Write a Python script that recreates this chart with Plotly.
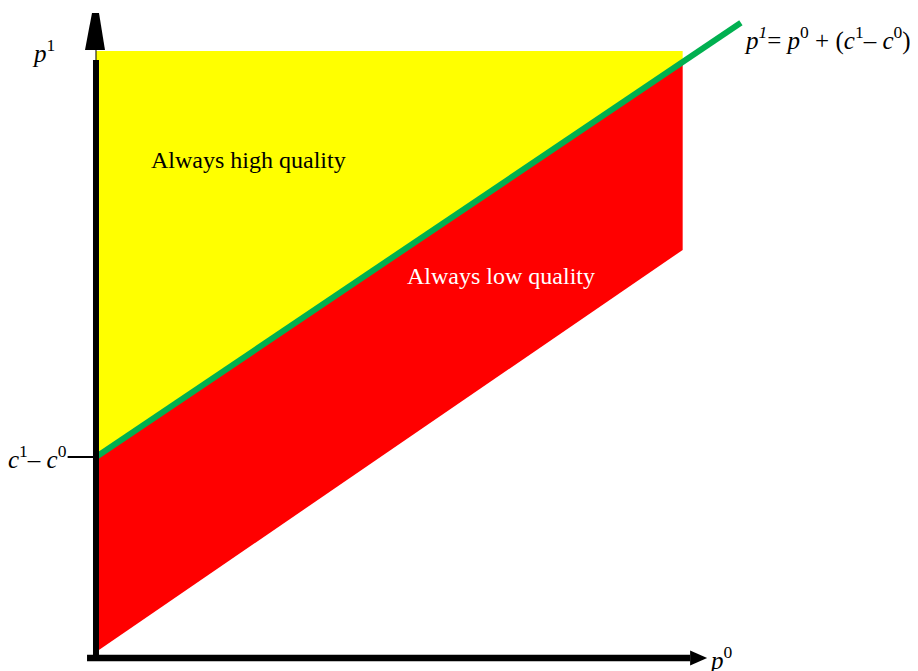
import plotly.graph_objects as go

# region corners, in (p0, p1) units with c1 - c0 = 1
high_p0 = [0, 0, 1.965, 1.965]
high_p1 = [1.0, 3.02, 3.02, 2.965]

low_p0 = [0, 1.965, 1.965, 0]
low_p1 = [1.0, 2.965, 2.03, 0.03]

# boundary p1 = p0 + (c1 - c0)
cost_gap = 1.0
line_p0 = [0, 2.16]
line_p1 = [p + cost_gap for p in line_p0]

# axis extents
y_axis_top = 2.975
y_arrow_at = 3.025
x_axis_end = 1.99

SERIF = "Liberation Serif, Times New Roman, serif"

fig = go.Figure()

fig.add_trace(go.Scatter(
    x=high_p0, y=high_p1, fill="toself", fillcolor="#FFFF00",
    mode="none", hoverinfo="skip"))
fig.add_trace(go.Scatter(
    x=low_p0, y=low_p1, fill="toself", fillcolor="#FF0000",
    mode="none", hoverinfo="skip"))
fig.add_trace(go.Scatter(
    x=line_p0, y=line_p1, mode="lines",
    line=dict(color="#00B050", width=6), hoverinfo="skip"))

shapes = [
    # vertical axis
    dict(type="line", x0=0, x1=0, y0=-0.015, y1=y_axis_top,
         line=dict(color="black", width=6)),
    dict(type="line", x0=0, x1=0, y0=y_axis_top, y1=y_arrow_at,
         line=dict(color="black", width=1)),
    dict(type="path", xref="x", yref="y", xsizemode="pixel", ysizemode="pixel",
         xanchor=0, yanchor=y_arrow_at,
         path="M -11 0 L 9 0 L 3 37 L -4 37 Z",
         fillcolor="black", line=dict(width=0)),
    # horizontal axis
    dict(type="line", x0=-0.03, x1=x_axis_end, y0=0, y1=0,
         line=dict(color="black", width=6.5)),
    dict(type="path", xref="x", yref="y", xsizemode="pixel", ysizemode="pixel",
         xanchor=x_axis_end, yanchor=0,
         path="M 0 -7.5 L 17 0 L 0 7.5 Z",
         fillcolor="black", line=dict(width=0)),
    # tick at c1 - c0
    dict(type="line", x0=-0.095, x1=-0.01, y0=cost_gap, y1=cost_gap,
         line=dict(color="black", width=2)),
]

annotations = [
    dict(x=-0.175, y=3.02, text="<i>p</i><sup>1</sup>", showarrow=False,
         font=dict(size=25, color="black", family=SERIF)),
    dict(x=-0.09, y=cost_gap, xanchor="right",
         text="<i>c</i><sup>1</sup>– <i>c</i><sup>0</sup>", showarrow=False,
         font=dict(size=25, color="black", family=SERIF)),
    dict(x=2.045, y=0.0, xanchor="left",
         text="<i>p</i><sup>0</sup>", showarrow=False,
         font=dict(size=25, color="black", family=SERIF)),
    dict(x=2.165, y=3.08, xanchor="left",
         text="<i>p</i><sup><i>1</i></sup>= <i>p</i><sup>0</sup> + (<i>c</i><sup>1</sup>– <i>c</i><sup>0</sup>)",
         showarrow=False, font=dict(size=25, color="black", family=SERIF)),
    dict(x=0.51, y=2.48, text="Always high quality", showarrow=False,
         font=dict(size=24, color="black", family=SERIF)),
    dict(x=1.355, y=1.9, text="Always low quality", showarrow=False,
         font=dict(size=24, color="white", family=SERIF)),
]

# the page body adds an 8px offset, so ranges are set to land the origin at (96, 658)
fig.update_layout(
    width=918, height=671,
    margin=dict(l=0, r=0, t=0, b=0),
    paper_bgcolor="white", plot_bgcolor="white",
    showlegend=False,
    xaxis=dict(range=[-0.2947, 2.780], visible=False, fixedrange=True),
    yaxis=dict(range=[-0.1045, 3.2338], visible=False, fixedrange=True),
    shapes=shapes,
    annotations=annotations,
)

fig.write_html("out.html")
